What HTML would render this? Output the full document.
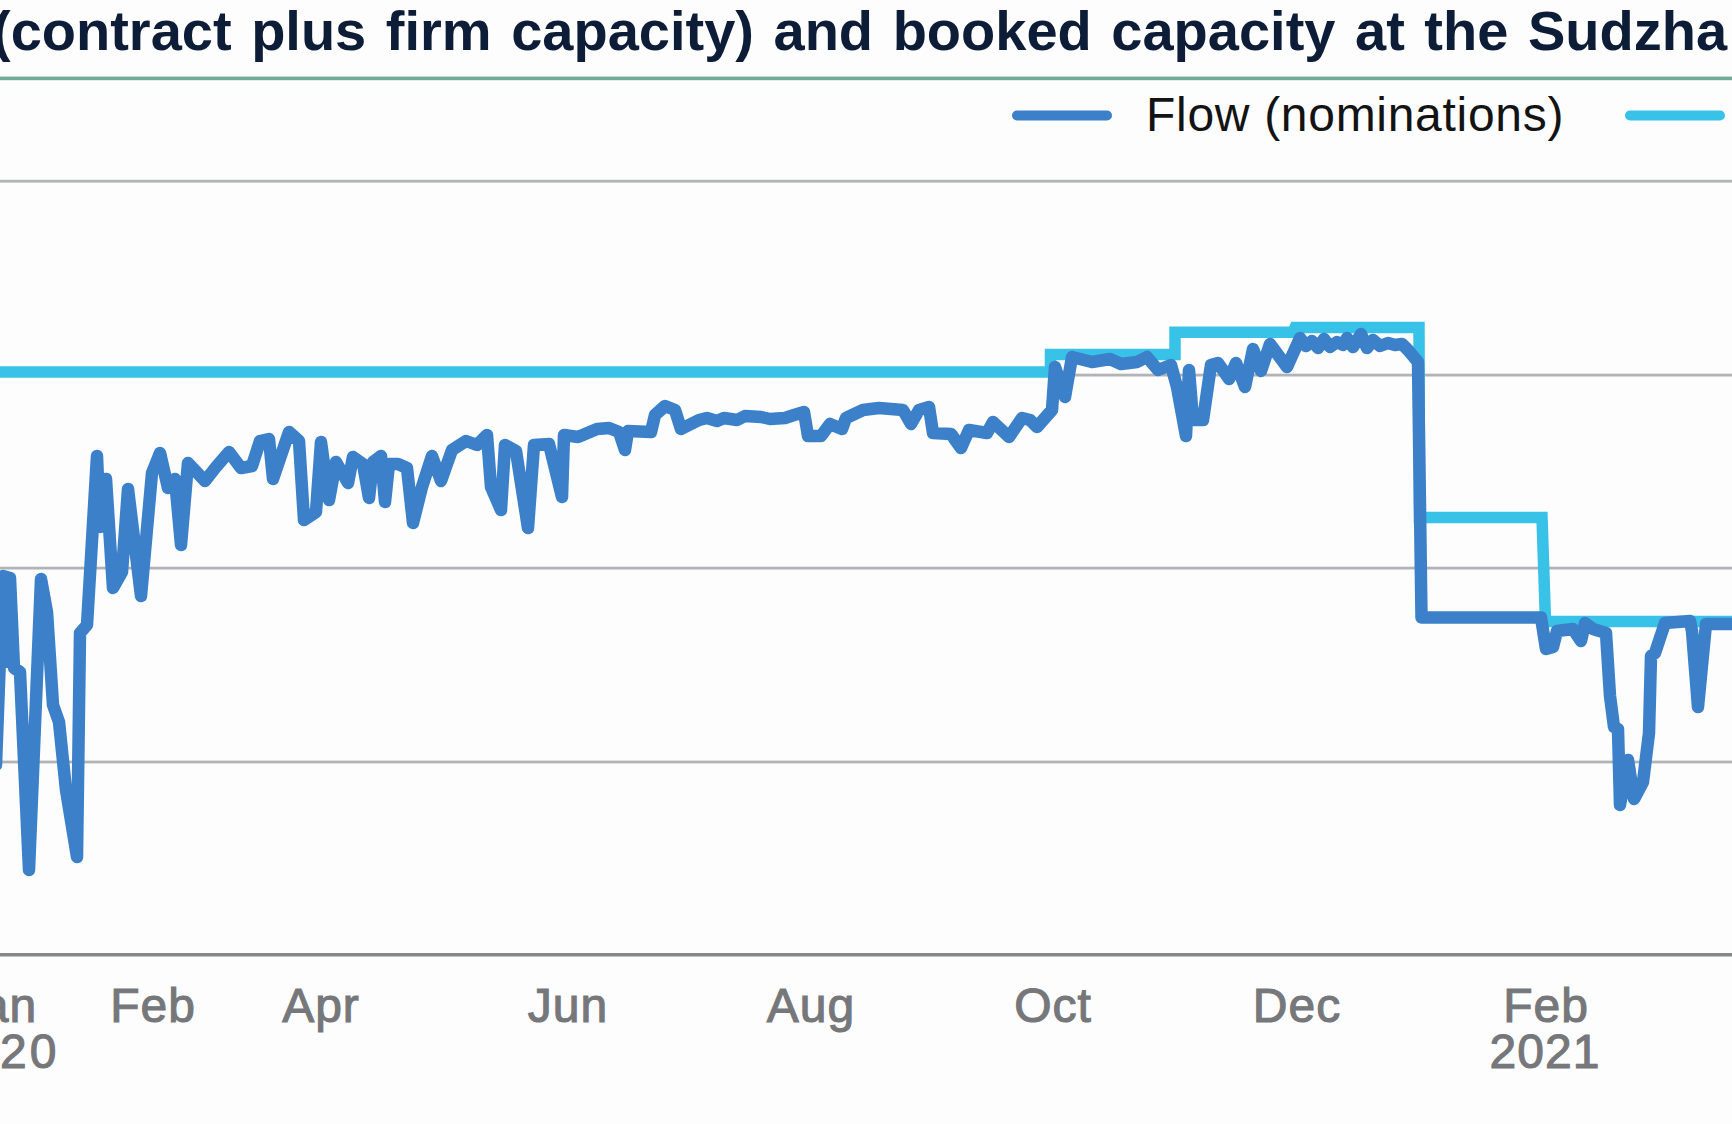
<!DOCTYPE html>
<html><head><meta charset="utf-8"><style>
html,body{margin:0;padding:0;background:#fdfdfe;}
body{width:1732px;height:1124px;overflow:hidden;position:relative;font-family:"Liberation Sans",sans-serif;}
.title{position:absolute;left:-8px;top:1px;font-size:56px;font-weight:bold;color:#0d1c37;white-space:nowrap;line-height:60px;word-spacing:4px;}
.lbl{position:absolute;font-size:48px;color:#76777a;white-space:nowrap;line-height:48px;text-align:center;width:200px;-webkit-text-stroke:1.1px #76777a;letter-spacing:1px;}
.leg{position:absolute;font-size:48px;letter-spacing:0.7px;color:#131313;white-space:nowrap;line-height:48px;}
svg{position:absolute;left:0;top:0;}
</style></head><body>
<svg width="1732" height="1124" viewBox="0 0 1732 1124">
<rect x="0" y="76.6" width="1732" height="3.6" fill="#72ab97"/>
<rect x="0" y="179.8" width="1732" height="2.8" fill="#b2b3b6"/>
<rect x="0" y="373.7" width="1732" height="2.8" fill="#b2b3b6"/>
<rect x="0" y="566.7" width="1732" height="2.8" fill="#b2b3b6"/>
<rect x="0" y="760.6" width="1732" height="2.8" fill="#b2b3b6"/>
<rect x="0" y="953" width="1732" height="3.5" fill="#86878a"/>
<line x1="1017" y1="115.5" x2="1107" y2="115.5" stroke="#3b80c8" stroke-width="10" stroke-linecap="round"/>
<line x1="1630" y1="115.5" x2="1720" y2="115.5" stroke="#38c2e8" stroke-width="10" stroke-linecap="round"/>
<polyline points="-10,372 1050.5,372 1050.5,354.5 1175,354.5 1175,332.2 1293,332.2 1295,327.5 1419,327.5 1419.5,517.5 1542,517.5 1545.5,621.5 1740,621.5" fill="none" stroke="#38c2e8" stroke-width="11.5" stroke-linejoin="miter"/>
<rect x="0" y="580" width="15" height="88" fill="#3b80c8"/>
<polyline points="-4,765 3,576 10,578 14,668 20,672 29,870 41,579 47,612 53,705 59,722 66,790 77,857 80,633 87,625 97,456 100,527 106,479 113,588 122,572 128,489 141,596 152,473 160,453 168,488 175,479 181,545 188,463 205,481 216,467 229,452 241,468 252,466 260,441 269,439 273,479 289,432 299,441 304,520 316,512 321,442 329,500 336,462 348,483 353,457 363,464 369,498 373,462 381,456 385,502 389,464 398,464 407,468 413,523 422,487 432,456 441,481 452,450 466,441 477,445 487,435 491,487 501,510 505,445 516,451 528,528 534,445 549,444 562,497 564,435 578,437 597,429 609,428 619,432 625,450 628,431 651,432 655,415 665,406 675,410 681,429 699,420 707,418 717,421 724,418 737,420 745,416 761,417 770,419 785,418 794,415 804,412 808,436 821,436 830,424 842,429 846,418 863,410 879,408 903,410 911,424 919,410 929,407 933,433 951,434 961,448 969,430 987,433 993,422 1009,437 1022,418 1030,420 1037,427 1052,410 1055,367 1065,397 1072,357 1092,362 1110,359 1121,364 1137,362 1147,357 1158,370 1171,365 1177,387 1186,436 1189,370 1193,420 1203,420 1211,365 1218,363 1229,379 1236,363 1245,387 1253,349 1261,371 1270,344 1287,367 1300,338 1306,346 1312,341 1318,348 1324,339 1330,347 1337,342 1343,345 1347,338 1353,347 1361,334 1367,348 1373,340 1380,346 1388,343 1395,345 1402,344 1408,350 1418,362 1421.5,617.5 1541,617.5 1546,649 1553,647 1557,631 1573,629 1581,641 1585,623 1593,629 1606,633 1610,696 1614,727 1618,729 1620,805 1628,760 1634,799 1643,782 1649,733 1651,656 1655,653 1665,623 1690,621 1692,631 1698,707 1706,624 1740,624" fill="none" stroke="#3b80c8" stroke-width="12.5" stroke-linejoin="round" stroke-linecap="round"/>
</svg>
<div class="title">(contract plus firm capacity) and booked capacity at the Sudzha</div>
<div class="leg" style="left:1146px;top:91px;">Flow (nominations)</div>
<div class="lbl" style="left:-103px;top:982px;">Jan</div>
<div class="lbl" style="left:-100px;top:1028px;letter-spacing:3px;">2020</div>
<div class="lbl" style="left:53px;top:982px;">Feb</div>
<div class="lbl" style="left:221px;top:982px;">Apr</div>
<div class="lbl" style="left:468px;top:982px;">Jun</div>
<div class="lbl" style="left:711px;top:982px;">Aug</div>
<div class="lbl" style="left:953px;top:982px;">Oct</div>
<div class="lbl" style="left:1197px;top:982px;">Dec</div>
<div class="lbl" style="left:1446px;top:982px;">Feb</div>
<div class="lbl" style="left:1445px;top:1028px;">2021</div>
</body></html>
